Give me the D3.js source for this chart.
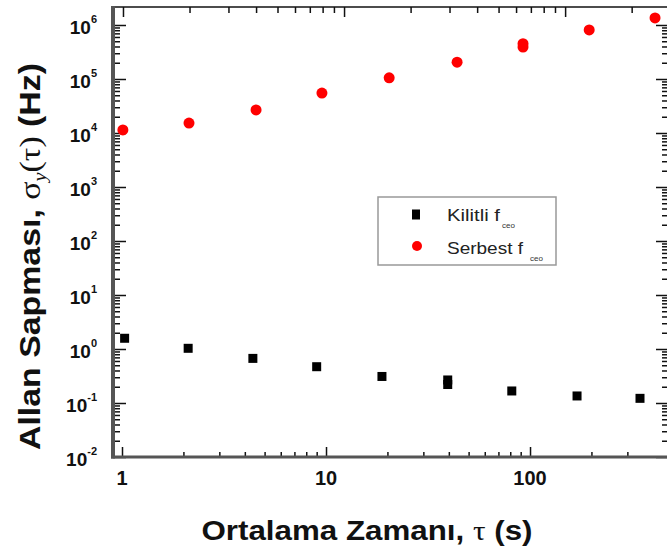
<!DOCTYPE html>
<html>
<head>
<meta charset="utf-8">
<script src="https://cdn.jsdelivr.net/npm/d3@7"></script>
<style>
  body { margin: 0; background: #fff; }
  svg { display: block; }
</style>
</head>
<body>
<svg id="chart" width="667" height="548"></svg>
<script>
// Allan deviation of the locked and free-running f_ceo versus averaging time
const tauKilitli   = [1.03, 2.11, 4.38, 9.0, 18.8, 39.5, 39.5, 81.4, 170, 346];
const sigmaKilitli = [1.58, 1.03, 0.67, 0.47, 0.31, 0.267, 0.22, 0.167, 0.135, 0.122];

const tauSerbest   = [1.01, 2.13, 4.54, 9.55, 20.4, 43.9, 92.4, 92.4, 195, 410];
const sigmaSerbest = [1.14e4, 1.53e4, 2.67e4, 5.5e4, 1.05e5, 2.05e5, 4.5e5, 3.9e5, 8.1e5, 1.35e6];

const xTickValues = [1, 10, 100];
const xTickLabels = ["1", "10", "100"];
const yTickExponents = [-2, -1, 0, 1, 2, 3, 4, 5, 6];

const legendNames = ["Kilitli f", "Serbest f"];
const legendSub = "ceo";

const FONT = "'Liberation Sans', Arial, Helvetica, sans-serif";
const SERIF = "'Liberation Serif', 'DejaVu Serif', serif";

const svg = d3.select("#chart");
svg.append("rect").attr("width", 667).attr("height", 548).attr("fill", "#fff");

// scales
const x = d3.scaleLog().domain([0.9085, 464]).range([113.5, 666]);
const xTop = d3.scaleLog().domain([0.906, 286]).range([113.5, 666]);
const y = d3.scaleLog().domain([0.01, 2.154e6]).range([457, 7]);

// tick value lists
const minorUpTo = (decades, maxV) => {
  const out = [];
  decades.forEach(d => { for (let m = 2; m <= 9; m++) if (d * m <= maxV) out.push(d * m); });
  return out;
};
const yMajor = yTickExponents.map(e => Math.pow(10, e));
const yMinor = minorUpTo(yTickExponents.slice(0, -1).map(e => Math.pow(10, e)), 1e6);
const xMinorBottom = minorUpTo(xTickValues, 300);
const xMinorTop = minorUpTo(xTickValues, 250);

function tickLayer(axisGen, tx, ty) {
  const g = svg.append("g").attr("transform", `translate(${tx},${ty})`).call(axisGen);
  g.select(".domain").remove();
  g.selectAll(".tick line").attr("stroke", "#111").attr("stroke-width", 1.5);
  g.selectAll(".tick text").remove();
  return g;
}

// left axis (ticks pointing inward)
tickLayer(d3.axisRight(y).tickValues(yMajor).tickSize(13).tickFormat(""), 113, 0);
tickLayer(d3.axisRight(y).tickValues(yMinor).tickSize(7).tickFormat(""), 113, 0);
// right axis
tickLayer(d3.axisLeft(y).tickValues(yMajor).tickSize(12).tickFormat(""), 668, 0);
tickLayer(d3.axisLeft(y).tickValues(yMinor).tickSize(6).tickFormat(""), 668, 0);
// bottom axis
tickLayer(d3.axisTop(x).tickValues(xTickValues).tickSize(10).tickFormat(""), 0, 457);
tickLayer(d3.axisTop(x).tickValues(xMinorBottom).tickSize(5).tickFormat(""), 0, 457);
// top axis
tickLayer(d3.axisBottom(xTop).tickValues(xTickValues).tickSize(10).tickFormat(""), 0, 7);
tickLayer(d3.axisBottom(xTop).tickValues(xMinorTop).tickSize(6).tickFormat(""), 0, 7);

// frame lines
svg.append("line").attr("x1", 111).attr("x2", 667).attr("y1", 7).attr("y2", 7)
  .attr("stroke", "#111").attr("stroke-width", 1.6);
svg.append("line").attr("x1", 111).attr("x2", 667).attr("y1", 457).attr("y2", 457)
  .attr("stroke", "#555").attr("stroke-width", 3);
svg.append("line").attr("x1", 113).attr("x2", 113).attr("y1", 6).attr("y2", 458.5)
  .attr("stroke", "#555").attr("stroke-width", 4);

// y tick labels 10^n
yTickExponents.forEach(e => {
  const t = svg.append("text")
    .attr("x", 97).attr("y", y(Math.pow(10, e)) + 9)
    .attr("text-anchor", "end")
    .attr("font-family", FONT).attr("font-weight", "bold").attr("font-size", 19)
    .attr("fill", "#111");
  t.append("tspan").text("10");
  t.append("tspan").attr("dy", -11).attr("font-size", 11).text(String(e).replace("-", "-"));
});

// x tick labels
svg.selectAll(".xlab").data(xTickValues).enter().append("text")
  .attr("x", d => x(d)).attr("y", 485)
  .attr("text-anchor", "middle")
  .attr("font-family", FONT).attr("font-weight", "bold").attr("font-size", 20)
  .attr("fill", "#111")
  .text((d, i) => xTickLabels[i]);

// axis titles
const xt = svg.append("text")
  .attr("x", 367).attr("y", 540)
  .attr("text-anchor", "middle")
  .attr("font-family", FONT).attr("font-weight", "bold").attr("font-size", 28)
  .attr("textLength", 331).attr("lengthAdjust", "spacingAndGlyphs")
  .attr("fill", "#111");
xt.append("tspan").text("Ortalama Zamanı, ");
xt.append("tspan").attr("font-family", SERIF).attr("font-weight", "normal").text("τ");
xt.append("tspan").text(" (s)");

const yt = svg.append("text")
  .attr("transform", "translate(40,256.5) rotate(-90)")
  .attr("text-anchor", "middle")
  .attr("font-family", FONT).attr("font-weight", "bold").attr("font-size", 30)
  .attr("textLength", 387).attr("lengthAdjust", "spacingAndGlyphs")
  .attr("fill", "#111");
yt.append("tspan").text("Allan Sapması, ");
yt.append("tspan").attr("font-family", SERIF).attr("font-weight", "normal").text("σ");
yt.append("tspan").attr("font-family", SERIF).attr("font-weight", "normal").attr("font-style", "italic")
  .attr("font-size", 18).attr("dy", 6).text("y");
yt.append("tspan").attr("font-family", SERIF).attr("font-weight", "normal").attr("dy", -6).text("(τ)");
yt.append("tspan").text(" (Hz)");

// data
const kilitli = tauKilitli.map((t, i) => ({ t, v: sigmaKilitli[i] }));
const serbest = tauSerbest.map((t, i) => ({ t, v: sigmaSerbest[i] }));
const sq = 9;

svg.append("g").selectAll("rect").data(kilitli).enter().append("rect")
  .attr("x", d => x(d.t) - sq / 2).attr("y", d => y(d.v) - sq / 2)
  .attr("width", sq).attr("height", sq).attr("fill", "#000");

svg.append("g").selectAll("circle").data(serbest).enter().append("circle")
  .attr("cx", d => x(d.t)).attr("cy", d => y(d.v)).attr("r", 5.5)
  .attr("fill", "#ff0000");

// legend
const lg = svg.append("g");
lg.append("rect").attr("x", 378).attr("y", 197).attr("width", 178).attr("height", 68)
  .attr("fill", "#fff").attr("stroke", "#999").attr("stroke-width", 1.5);
lg.append("rect").attr("x", 412).attr("y", 209.5).attr("width", 8).attr("height", 10).attr("fill", "#000");
lg.append("circle").attr("cx", 417).attr("cy", 246).attr("r", 5).attr("fill", "#ff0000");

const legendRows = [
  { name: legendNames[0], base: 221, len: 53, subX: 502 },
  { name: legendNames[1], base: 254, len: 76, subX: 530 }
];
legendRows.forEach(r => {
  lg.append("text").attr("x", 447).attr("y", r.base)
    .attr("font-family", FONT).attr("font-size", 17).attr("fill", "#222")
    .attr("textLength", r.len).attr("lengthAdjust", "spacingAndGlyphs")
    .text(r.name);
  lg.append("text").attr("x", r.subX).attr("y", r.base + 7)
    .attr("font-family", FONT).attr("font-size", 8).attr("fill", "#333")
    .text(legendSub);
});
</script>
</body>
</html>
